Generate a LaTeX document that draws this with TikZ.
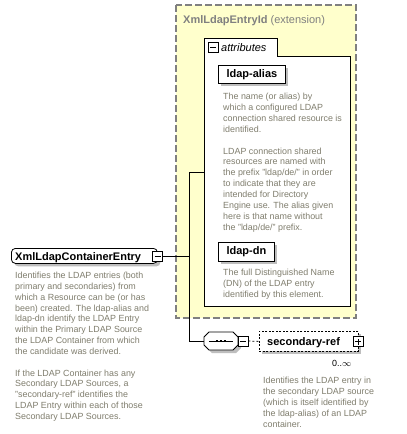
\documentclass[tikz,border=0pt]{standalone}
\usepackage{fontspec}
\setmainfont{Liberation Sans}
\usetikzlibrary{shadows}
\definecolor{desccol}{RGB}{128,126,110}
\definecolor{hdrcol}{RGB}{128,128,128}
\definecolor{extfill}{RGB}{255,255,204}
\definecolor{shadowcol}{RGB}{190,190,190}
\tikzset{
  desc/.style={anchor=base west, inner sep=0pt, font=\fontsize{8.9}{10}\selectfont, text=desccol},
  lbl/.style={anchor=base west, inner sep=0pt, font=\fontsize{11}{12}\selectfont\bfseries},
  ebox/.style={draw=black, fill=white, line width=0.8pt},
  shad/.style={drop shadow={shadow xshift=3pt, shadow yshift=-3pt, opacity=1, fill=shadowcol}},
  pmbox/.style={draw=black, fill=white, line width=0.8pt, minimum size=10pt, inner sep=0pt},
  conn/.style={line width=0.8pt},
  extbox/.style={draw=hdrcol, fill=extfill, line width=1.1pt, dash pattern=on 7pt off 3pt},
  optbox/.style={draw=black, fill=white, line width=0.8pt, dash pattern=on 2pt off 1.5pt}
}
\begin{document}
\begin{tikzpicture}[x=1pt,y=-1pt]
\useasboundingbox (0,0) rectangle (407,434);
\fill[white] (0,0) rectangle (407,434);

% extension box
\draw[extbox] (176,5) rectangle (356,318);
\node[anchor=base west, inner sep=0pt, text=hdrcol, font=\fontsize{11}{12}\selectfont] (title) at (183,23) {\textbf{XmlLdapEntryId} (extension)};

% attributes group
\draw[ebox] (204,306) -- (204,38.5) -- (277,38.5) -- (277,56) -- (350,56) -- (350,306) -- cycle;
\coordinate (attrW) at (204,172);
\node[pmbox] (am) at (213,47.5) {};
\draw[conn] ([xshift=-3pt]am.center) -- ([xshift=3pt]am.center);
\node[anchor=base west, inner sep=0pt, font=\fontsize{11}{12}\selectfont\itshape] (attrlbl) at (221,51.5) {attributes};

% ldap-alias
\node[ebox, shad, anchor=north west, minimum width=67pt, minimum height=18pt, inner sep=0pt, font=\fontsize{11}{12}\selectfont\bfseries] (alias) at (218,65) {ldap-alias};
\foreach \t [count=\i from 0] in {{The name (or alias) by}, {which a configured LDAP}, {connection shared resource is}, {identified.}}
  \node[desc] (ad\i) at (223,99.5+\i*10.9) {\t};
\foreach \t [count=\i from 0] in {{LDAP connection shared}, {resources are named with}, {the prefix "ldap/de/" in order}, {to indicate that they are}, {intended for Directory}, {Engine use. The alias given}, {here is that name without}, {the "ldap/de/" prefix.}}
  \node[desc] (ae\i) at (223,154+\i*10.9) {\t};

% ldap-dn
\node[ebox, shad, anchor=north west, minimum width=56pt, minimum height=19pt, inner sep=0pt, font=\fontsize{11}{12}\selectfont\bfseries] (dn) at (218,242) {ldap-dn};
\foreach \t [count=\i from 0] in {{The full Distinguished Name}, {(DN) of the LDAP entry}, {identified by this element.}}
  \node[desc] (dd\i) at (223,275.5+\i*10.9) {\t};

% main element
\node[ebox, shad, rounded corners=4pt, anchor=north west, minimum width=146pt, minimum height=15pt, inner sep=0pt] (main) at (11,248) {};
\node[lbl] (mainlbl) at (15,260) {XmlLdapContainerEntry};
\node[pmbox] (mm) at (157.5,256.5) {};
\draw[conn] ([xshift=-3pt]mm.center) -- ([xshift=3pt]mm.center);
\foreach \t [count=\i from 0] in {{Identifies the LDAP entries (both}, {primary and secondaries) from}, {which a Resource can be (or has}, {been) created. The ldap-alias and}, {ldap-dn identify the LDAP Entry}, {within the Primary LDAP Source}, {the LDAP Container from which}, {the candidate was derived.}}
  \node[desc] (md\i) at (15,278.5+\i*10.86) {\t};
\foreach \t [count=\i from 0] in {{If the LDAP Container has any}, {Secondary LDAP Sources, a}, {"secondary-ref" identifies the}, {LDAP Entry within each of those}, {Secondary LDAP Sources.}}
  \node[desc] (me\i) at (15,376+\i*10.86) {\t};

% sequence (octagon)
\node[inner sep=0pt, minimum width=34pt, minimum height=18pt] (seq) at (221,341) {};
\fill[shadowcol] (212,335) -- (236,335) -- (241,340) -- (241,348) -- (236,353) -- (212,353) -- (207,348) -- (207,340) -- cycle;
\draw[ebox] (209,332) -- (233,332) -- (238,337) -- (238,345) -- (233,350) -- (209,350) -- (204,345) -- (204,337) -- cycle;
\draw[conn] ([xshift=5pt]seq.west) -- ([xshift=-5pt]seq.east);
\foreach \dx in {-4,0,4}
  \fill ([xshift=\dx pt]seq.center) +(-1.3,-1.3) rectangle +(1.3,1.3);
\node[pmbox] (sm) at (243,341) {};
\draw[conn] ([xshift=-3pt]sm.center) -- ([xshift=3pt]sm.center);

% connectors
\coordinate (j1) at (189,256.5);
\coordinate (j2) at (189,172);
\coordinate (j3) at (189,341);
\draw[conn] (mm.east) -- (j1);
\draw[conn] (attrW) -- (j2) -- (j3) -- (seq.west);

% secondary-ref
\node[optbox, shad, anchor=north west, minimum width=99pt, minimum height=20pt, inner sep=0pt] (sref) at (259,331) {};
\node[lbl] (sreflbl) at (267,345.5) {secondary-ref};
\node[pmbox] (sp) at (358,341.5) {};
\draw[conn] ([xshift=-3pt]sp.center) -- ([xshift=3pt]sp.center);
\draw[conn] ([yshift=-3pt]sp.center) -- ([yshift=3pt]sp.center);
\draw[conn, dash pattern=on 2pt off 2pt] (sm.east) -- (sref.west);
\node[anchor=base west, inner sep=0pt, font=\fontsize{8.9}{10}\selectfont] (mult) at (332,366) {0..$\infty$};
\foreach \t [count=\i from 0] in {{Identifies the LDAP entry in}, {the secondary LDAP source}, {(which is itself identified by}, {the ldap-alias) of an LDAP}, {container.}}
  \node[desc] (sd\i) at (263,383.5+\i*10.9) {\t};
\end{tikzpicture}
\end{document}
